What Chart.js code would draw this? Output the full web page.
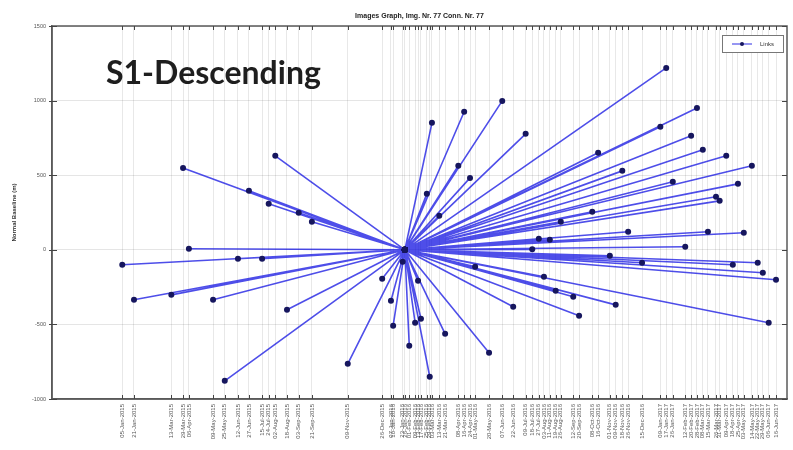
<!DOCTYPE html>
<html>
<head>
<meta charset="utf-8">
<script src="https://cdn.jsdelivr.net/npm/chart.js@4/dist/chart.umd.min.js"></script>
<style>
  html, body { margin: 0; padding: 0; background: #fff; }
  #wrap { width: 793px; height: 450px; position: relative; }
</style>
</head>
<body>
<div id="wrap"><canvas id="c"></canvas></div>
<script>
// Reference (master) acquisition; every other acquisition is linked to it.
const masterDate = '2016-01-26';
const masterBaseline = 0;

// Slave acquisitions and their normal baselines (m) relative to the master.
const acquisitionDates = [
  '2015-01-05', '2015-01-21', '2015-03-13', '2015-03-29', '2015-04-06',
  '2015-05-09', '2015-05-25', '2015-06-12', '2015-06-27', '2015-07-15',
  '2015-07-24', '2015-08-02', '2015-08-18', '2015-09-03', '2015-09-21',
  '2015-11-09', '2015-12-26', '2016-01-07', '2016-01-10', '2016-01-23',
  '2016-02-01', '2016-02-09', '2016-02-13', '2016-02-17', '2016-02-25',
  '2016-02-29', '2016-03-03', '2016-03-13', '2016-03-21', '2016-04-08',
  '2016-04-16', '2016-04-24', '2016-05-01', '2016-05-20', '2016-06-07',
  '2016-06-22', '2016-07-09', '2016-07-18', '2016-07-27', '2016-08-03',
  '2016-08-11', '2016-08-19', '2016-08-26', '2016-09-12', '2016-09-20',
  '2016-10-08', '2016-10-16', '2016-11-01', '2016-11-09', '2016-11-18',
  '2016-11-26', '2016-12-15', '2017-01-09', '2017-01-17', '2017-01-26',
  '2017-02-12', '2017-02-20', '2017-02-28', '2017-03-08', '2017-03-15',
  '2017-03-26', '2017-03-31', '2017-04-09', '2017-04-18', '2017-04-25',
  '2017-05-03', '2017-05-14', '2017-05-22', '2017-05-29', '2017-06-06',
  '2017-06-16'
];
const normalBaselines = [
  -100, -335, -302, 549, 7,
  -335, -878, -60, 395, -60,
  308, 630, -402, 248, 188,
  -764, -194, -342, -509, -80,
  -643, -489, -208, -462, 375,
  -851, 851, 228, -563, 563,
  925, 482, -114, -690, 998,
  -382, 777, 3, 74, -181,
  67, -275, 188, -315, -442,
  255, 650, -40, -369, 529,
  121, -87, 824, 1219, 456,
  20, 764, 951, 670, 121,
  355, 328, 630, -100, 442,
  114, 563, -87, -154, -489,
  -201
];

const axisStartDate = '2014-10-01';
const axisEndDate = '2017-07-01';
const baselineTicks = [-1000, -500, 0, 500, 1000, 1500];

const chartTitle = 'Images Graph, Img. Nr. 77 Conn. Nr. 77';
const yAxisTitle = 'Normal Baseline (m)';
const legendLabel = 'Links';
const trackLabel = 'S1-Descending';

const MONTHS = ['Jan','Feb','Mar','Apr','May','Jun','Jul','Aug','Sep','Oct','Nov','Dec'];
const toTime = s => Date.parse(s + 'T00:00:00Z');
function fmtDate(v) {
  const d = new Date(v);
  const dd = String(d.getUTCDate()).padStart(2, '0');
  return dd + '-' + MONTHS[d.getUTCMonth()] + '-' + d.getUTCFullYear();
}

// Each connection: master -> slave, then a gap so segments stay separate.
const masterT = toTime(masterDate);
const links = [];
acquisitionDates.forEach((d, i) => {
  const t = toTime(d);
  links.push({ x: masterT, y: masterBaseline });
  links.push({ x: t, y: normalBaselines[i] });
  links.push({ x: t, y: null });
});

const tickTimes = acquisitionDates.map(toTime).concat([masterT]).sort((a, b) => a - b);

const LINE = 'rgba(10, 10, 225, 0.72)';
const MARK = '#16165e';
const FRAME = '#5a5a5a';

const framePlugin = {
  id: 'frameAndNotes',
  afterDraw(chart) {
    const { ctx, chartArea: a, scales } = chart;
    ctx.save();
    // plot frame
    ctx.strokeStyle = FRAME;
    ctx.lineWidth = 1.5;
    ctx.strokeRect(a.left, a.top, a.right - a.left, a.bottom - a.top);

    // inward tick marks on all four sides
    ctx.lineWidth = 1;
    ctx.strokeStyle = '#444';
    ctx.beginPath();
    scales.x.ticks.forEach(t => {
      const x = Math.round(scales.x.getPixelForValue(t.value)) + 0.5;
      ctx.moveTo(x, a.bottom); ctx.lineTo(x, a.bottom - 4);
      ctx.moveTo(x, a.top); ctx.lineTo(x, a.top + 4);
    });
    scales.y.ticks.forEach(t => {
      const y = Math.round(scales.y.getPixelForValue(t.value)) + 0.5;
      ctx.moveTo(a.left - 3, y); ctx.lineTo(a.left + 5, y);
      ctx.moveTo(a.right, y); ctx.lineTo(a.right - 5, y);
    });
    ctx.stroke();

    // title centred over the plot
    ctx.fillStyle = '#222';
    ctx.font = 'bold 7px "Liberation Sans", Arial, sans-serif';
    ctx.textAlign = 'center';
    ctx.textBaseline = 'middle';
    ctx.fillText(chartTitle, (a.left + a.right) / 2, 16);

    // track label
    ctx.fillStyle = '#1e1e1e';
    ctx.font = 'bold 32px Lato, "Open Sans", sans-serif';
    ctx.textAlign = 'left';
    ctx.textBaseline = 'alphabetic';
    ctx.fillText(trackLabel, 106, 84);

    // boxed legend, upper right inside the plot
    const lx = 722, ly = 35, lw = 61, lh = 17;
    ctx.fillStyle = '#fff';
    ctx.fillRect(lx, ly, lw, lh);
    ctx.strokeStyle = '#777';
    ctx.lineWidth = 1;
    ctx.strokeRect(lx + 0.5, ly + 0.5, lw, lh);
    ctx.strokeStyle = LINE;
    ctx.lineWidth = 1.2;
    ctx.beginPath();
    ctx.moveTo(lx + 10, ly + lh / 2 + 0.5);
    ctx.lineTo(lx + 30, ly + lh / 2 + 0.5);
    ctx.stroke();
    ctx.fillStyle = MARK;
    ctx.beginPath();
    ctx.arc(lx + 20, ly + lh / 2 + 0.5, 2, 0, Math.PI * 2);
    ctx.fill();
    ctx.fillStyle = '#333';
    ctx.font = '6px "Liberation Sans", Arial, sans-serif';
    ctx.textBaseline = 'middle';
    ctx.fillText(legendLabel, lx + 38, ly + lh / 2 + 1);
    ctx.restore();
  }
};

new Chart(document.getElementById('c'), {
  type: 'line',
  data: {
    datasets: [{
      label: legendLabel,
      data: links,
      borderColor: LINE,
      borderWidth: 1.6,
      backgroundColor: MARK,
      pointBackgroundColor: MARK,
      pointBorderColor: MARK,
      pointRadius: c => (c.raw && c.raw.y === null) ? 0 : 3,
      pointBorderWidth: 0,
      spanGaps: false,
      tension: 0
    }]
  },
  options: {
    responsive: true,
    maintainAspectRatio: false,
    animation: false,
    devicePixelRatio: 1,
    layout: { padding: { top: 26, right: 6, left: 0, bottom: 0 } },
    plugins: {
      legend: { display: false },
      title: { display: false },
      tooltip: { enabled: false }
    },
    scales: {
      x: {
        type: 'linear',
        min: toTime(axisStartDate),
        max: toTime(axisEndDate),
        afterBuildTicks: s => { s.ticks = tickTimes.map(v => ({ value: v })); },
        afterFit: s => { s.height = 51; },
        ticks: {
          autoSkip: false,
          minRotation: 90,
          maxRotation: 90,
          padding: 5,
          color: '#555',
          font: { size: 6, family: '"Liberation Sans", Arial, sans-serif' },
          callback: v => fmtDate(v)
        },
        grid: { color: 'rgba(0,0,0,0.09)', lineWidth: 1, drawTicks: false },
        border: { color: FRAME, width: 1.5 }
      },
      y: {
        min: baselineTicks[0],
        max: baselineTicks[baselineTicks.length - 1],
        afterBuildTicks: s => { s.ticks = baselineTicks.map(v => ({ value: v })); },
        afterFit: s => { s.width = 52; },
        ticks: {
          padding: 6,
          color: '#555',
          font: { size: 5.5, family: '"Liberation Sans", Arial, sans-serif' },
          callback: v => String(v)
        },
        grid: { color: 'rgba(0,0,0,0.1)', lineWidth: 1, drawTicks: false },
        border: { color: FRAME, width: 1.5 },
        title: {
          display: true,
          text: yAxisTitle,
          color: '#333',
          padding: { top: 11, bottom: 0 },
          font: { size: 6, weight: 'bold', family: '"Liberation Sans", Arial, sans-serif' }
        }
      }
    }
  },
  plugins: [framePlugin]
});
</script>
</body>
</html>
